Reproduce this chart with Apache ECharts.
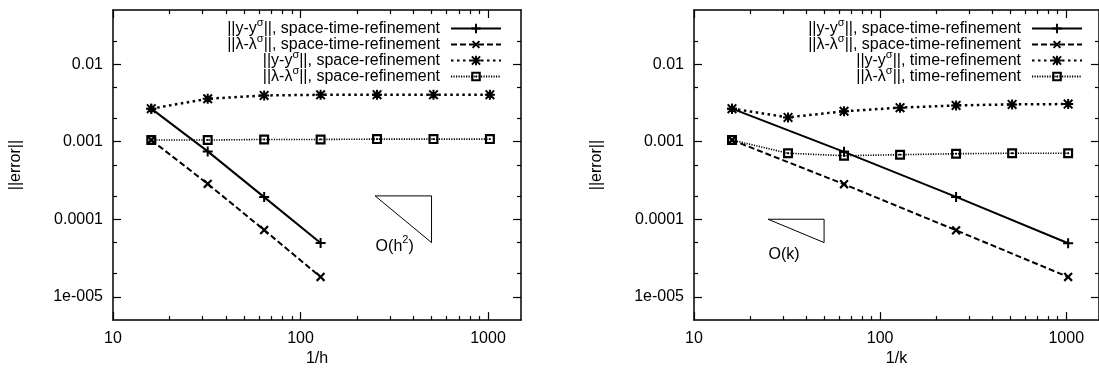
<!DOCTYPE html>
<html>
<head>
<meta charset="utf-8">
<script src="https://cdn.jsdelivr.net/npm/echarts@6/dist/echarts.min.js"></script>
<style>
  html, body { margin: 0; padding: 0; background: #fff; }
  #chart { width: 1099px; height: 372px; }
</style>
</head>
<body>
<div id="chart"></div>
<script>
// refinement levels
const xAll = [16, 32, 64, 128, 256, 512, 1024]
const xLeftST = [16, 32, 64, 128]
const xRightST = [16, 64, 256, 1024]

// left panel (1/h)
const leftYSpaceTime = [0.00267, 0.00075, 0.000193, 0.0000494]
const leftLamSpaceTime = [0.00105, 0.000286, 0.0000726, 0.000018]
const leftYSpace = [0.00267, 0.00358, 0.00395, 0.00403, 0.00404, 0.00404, 0.00404]
const leftLamSpace = [0.00105, 0.00105, 0.00107, 0.00107, 0.00108, 0.00108, 0.00108]

// right panel (1/k)
const rightYSpaceTime = [0.00267, 0.00074, 0.000194, 0.000049]
const rightLamSpaceTime = [0.00105, 0.000283, 0.000072, 0.000018]
const rightYTime = [0.00267, 0.00206, 0.00247, 0.00275, 0.00294, 0.00303, 0.00306]
const rightLamTime = [0.00105, 0.00071, 0.00066, 0.00068, 0.0007, 0.00071, 0.00071]

// slope triangles and their labels
const triLeftX = [250, 500, 500, 250]
const triLeftY = [0.0002, 0.0002, 0.00005, 0.0002]
const triRightX = [25, 50, 50, 25]
const triRightY = [0.0001, 0.0001, 0.00005, 0.0001]
const noteLeft = [250, 0.000045]
const noteRight = [25, 0.000035]

// ticks
const xMajor = [10, 100, 1000]
const xMinor = [20, 30, 40, 50, 60, 70, 80, 90, 200, 300, 400, 500, 600, 700, 800, 900]
const yMajor = [0.00001, 0.0001, 0.001, 0.01]
const yLabels = ['1e-005', '0.0001', '0.001', '0.01']
const yMinor = [0.00002, 0.00005, 0.0002, 0.0005, 0.002, 0.005, 0.02]

const names = [
  '||y-yσ||, space-time-refinement',
  '||λ-λσ||, space-time-refinement',
  '||y-yσ||, space-refinement',
  '||λ-λσ||, space-refinement',
  '||y-yσ||, time-refinement',
  '||λ-λσ||, time-refinement'
]

const font = 'Liberation Sans, Arial, Helvetica, sans-serif'

const P_PLUS = 'path://M4,0 H6 V4 H10 V6 H6 V10 H4 V6 H0 V4 H4 Z'
const P_STAR = 'path://M4,0 H6 V4 H10 V6 H6 V10 H4 V6 H0 V4 H4 Z M0,1.4 L1.4,0 L5,3.6 L8.6,0 L10,1.4 L6.4,5 L10,8.6 L8.6,10 L5,6.4 L1.4,10 L0,8.6 L3.6,5 Z'
const P_BOX = 'path://M0,0 L10,0 L10,10 L0,10 Z M2.2,2.2 L2.2,7.8 L7.8,7.8 L7.8,2.2 Z M4.1,4.1 L5.9,4.1 L5.9,5.9 L4.1,5.9 Z'

const richText = {
  n: { fontSize: 16, fontFamily: font, color: '#000', lineHeight: 16 },
  s: { fontSize: 11, fontFamily: font, color: '#000', lineHeight: 11, padding: [0, 0, 12, 0] }
}

function zip (xs, ys) {
  return ys.map((y, i) => [xs[i], y])
}

function axes (kind, gridIndex, min, max, major, minor, name) {
  const sides = kind === 'x' ? ['bottom', 'top'] : ['left', 'right']
  const list = []
  sides.forEach((pos, i) => {
    [major, minor].forEach((ticks, j) => {
      const main = i === 0 && j === 0
      list.push({
        type: 'log',
        logBase: 10,
        gridIndex: gridIndex,
        position: pos,
        min: min,
        max: max,
        name: main ? name : '',
        nameLocation: 'middle',
        nameGap: kind === 'x' ? 29 : 89,
        nameTextStyle: { fontSize: 16, fontFamily: font, color: '#000' },
        axisLine: { show: j === 0, onZero: false, lineStyle: { color: '#000', width: 1.5 } },
        axisTick: { show: true, inside: true, length: j === 0 ? 8 : 4, customValues: ticks, lineStyle: { color: '#000', width: 1.2 } },
        axisLabel: main ? {
          show: true,
          customValues: major,
          margin: 10,
          fontSize: 16,
          fontFamily: font,
          color: '#000',
          formatter: (v) => kind === 'x' ? String(Math.round(v)) : yLabels[yMajor.findIndex(t => Math.abs(Math.log10(t) - Math.log10(v)) < 0.01)]
        } : { show: false },
        splitLine: { show: false },
        minorTick: { show: false }
      })
    })
  })
  return list
}

function dataSeries (name, xs, ys, style, xi) {
  const st = {
    plus: { symbol: P_PLUS, size: 10, rotate: 0, type: 'solid', width: 2 },
    cross: { symbol: P_PLUS, size: 11, rotate: 45, type: [6, 3], width: 2 },
    star: { symbol: P_STAR, size: 10, rotate: 0, type: [2.5, 3.5], width: 2.5 },
    box: { symbol: P_BOX, size: 10, rotate: 0, type: [1.2, 1.3], width: 1.6 }
  }[style]
  return {
    name: name,
    type: 'line',
    xAxisIndex: xi,
    yAxisIndex: xi,
    data: zip(xs, ys),
    symbol: st.symbol,
    symbolSize: st.size,
    symbolRotate: st.rotate,
    showAllSymbol: true,
    itemStyle: { color: '#000' },
    lineStyle: { color: '#000', width: st.width, type: st.type },
    z: 3
  }
}

function triangle (xs, ys, xi) {
  return {
    type: 'line',
    xAxisIndex: xi,
    yAxisIndex: xi,
    data: zip(xs, ys),
    symbol: 'none',
    lineStyle: { color: '#000', width: 1 },
    silent: true
  }
}

function note (pt, text, xi) {
  return {
    type: 'scatter',
    xAxisIndex: xi,
    yAxisIndex: xi,
    data: [pt],
    symbolSize: 1,
    itemStyle: { color: '#fff', opacity: 0 },
    silent: true,
    label: {
      show: true,
      position: 'right',
      distance: 0,
      color: '#000',
      opacity: 1,
      formatter: text,
      rich: richText
    }
  }
}

function legend (name, right, top) {
  return {
    data: [name],
    right: right,
    top: top,
    align: 'right',
    orient: 'vertical',
    padding: 0,
    itemWidth: 50,
    itemHeight: 12,
    itemGap: 0,
    selectedMode: false,
    formatter: (n) => '{n|' + n.split('σ').join('}{s|σ}{n|') + '}',
    textStyle: { rich: richText, padding: [0, 6, 0, 0] }
  }
}

const chart = echarts.init(document.getElementById('chart'))

const option = {
  animation: false,
  backgroundColor: '#fff',
  textStyle: { fontFamily: font },
  grid: [
    { left: 113, top: 10, width: 408, height: 311 },
    { left: 694, top: 10, width: 408, height: 311 }
  ],
  xAxis: [].concat(
    axes('x', 0, 10, 1500, xMajor, xMinor, '1/h'),
    axes('x', 1, 10, 1500, xMajor, xMinor, '1/k')
  ),
  yAxis: [].concat(
    axes('y', 0, 0.000005, 0.05, yMajor, yMinor, '||error||'),
    axes('y', 1, 0.000005, 0.05, yMajor, yMinor, '||error||')
  ),
  legend: [
    legend(names[0], 597, 17),
    legend(names[1], 597, 33),
    legend(names[2], 597, 49),
    legend(names[3], 597, 65),
    legend(names[0], 16, 17),
    legend(names[1], 16, 33),
    legend(names[4], 16, 49),
    legend(names[5], 16, 65)
  ],
  series: [
    dataSeries(names[0], xLeftST, leftYSpaceTime, 'plus', 0),
    dataSeries(names[1], xLeftST, leftLamSpaceTime, 'cross', 0),
    dataSeries(names[2], xAll, leftYSpace, 'star', 0),
    dataSeries(names[3], xAll, leftLamSpace, 'box', 0),
    triangle(triLeftX, triLeftY, 0),
    note(noteLeft, '{n|O(h}{s|2}{n|)}', 0),
    dataSeries(names[0], xRightST, rightYSpaceTime, 'plus', 4),
    dataSeries(names[1], xRightST, rightLamSpaceTime, 'cross', 4),
    dataSeries(names[4], xAll, rightYTime, 'star', 4),
    dataSeries(names[5], xAll, rightLamTime, 'box', 4),
    triangle(triRightX, triRightY, 4),
    note(noteRight, '{n|O(k)}', 4)
  ]
}

chart.setOption(option)
</script>
</body>
</html>
